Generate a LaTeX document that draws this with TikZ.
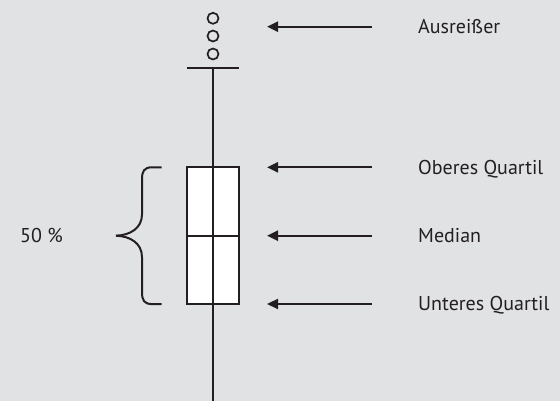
\documentclass[tikz,border=0pt]{standalone}
\usepackage{fontspec}
\setmainfont{PT Sans}
\usetikzlibrary{arrows.meta}
\usetikzlibrary{positioning}

\definecolor{bggray}{HTML}{E1E2E4}
\definecolor{ink}{HTML}{231F20}

\begin{document}
\begin{tikzpicture}[x=1pt,y=1pt,
		inkline/.style={draw=ink,line width=2.2pt},
		pointer/.style={inkline,-{Triangle[length=11pt,width=10pt]}},
		boxtext/.style={anchor=base west,yshift=-7pt,inner sep=0pt,text=ink,font=\fontsize{20}{24}\selectfont}]
		\def \xAxis {213};
		\def \yMed {165.3};
		\def \yTop {233.7};
		\def \yLow {97};
		\def \yCap {333.3};
		\fill[bggray] (0,0) rectangle (560,401);
		\useasboundingbox (0,0) rectangle (560,401);
		% box and whisker
		\node (box) [draw=ink,line width=2pt,fill=white,minimum width=52pt,minimum height=\yTop pt-\yLow pt,inner sep=0pt] at (\xAxis,\yMed) {};
		\coordinate (cap) at (\xAxis,\yCap);
		\coordinate (foot) at (\xAxis,0);
		\draw[inkline] (foot) -- (cap);
		\draw[inkline] ([xshift=-26pt]cap) -- ([xshift=26pt]cap);
		\draw[draw=ink,line width=2pt] (box.west) -- (box.east);
		% outliers
		\foreach \y [count=\i] in {347,365,382.7}
		{
			\node (out\i) [circle,draw=ink,line width=1.7pt,minimum size=11pt,inner sep=0pt] at (\xAxis,\y) {};
		}
		% labels and arrows
		\foreach \y/\name/\txt in {374.3/outl/Ausreißer,\yTop/upq/Oberes Quartil,\yMed/med/Median,\yLow/loq/Unteres Quartil}
		{
			\node (\name) [boxtext] at (418,\y) {\txt};
			\coordinate (\name-tail) at (372,\y);
			\coordinate (\name-tip) at (267,\y);
			\draw[pointer] (\name-tail) -- (\name-tip);
		}
		% brace
		\foreach \s in {1,-1}
		{
			\draw[inkline,line width=2pt,shift={(0,\yMed)},yscale=\s] (161.7,68.4) -- (152,68.4) .. controls (144,68.4) and (142,64.4) .. (142,56.4) -- (142,21.4) .. controls (142,7.4) and (130,0.4) .. (116,0);
		}
		\node (half) [boxtext,anchor=base east] at (63,\yMed) {50 \%};
\end{tikzpicture}
\end{document}
